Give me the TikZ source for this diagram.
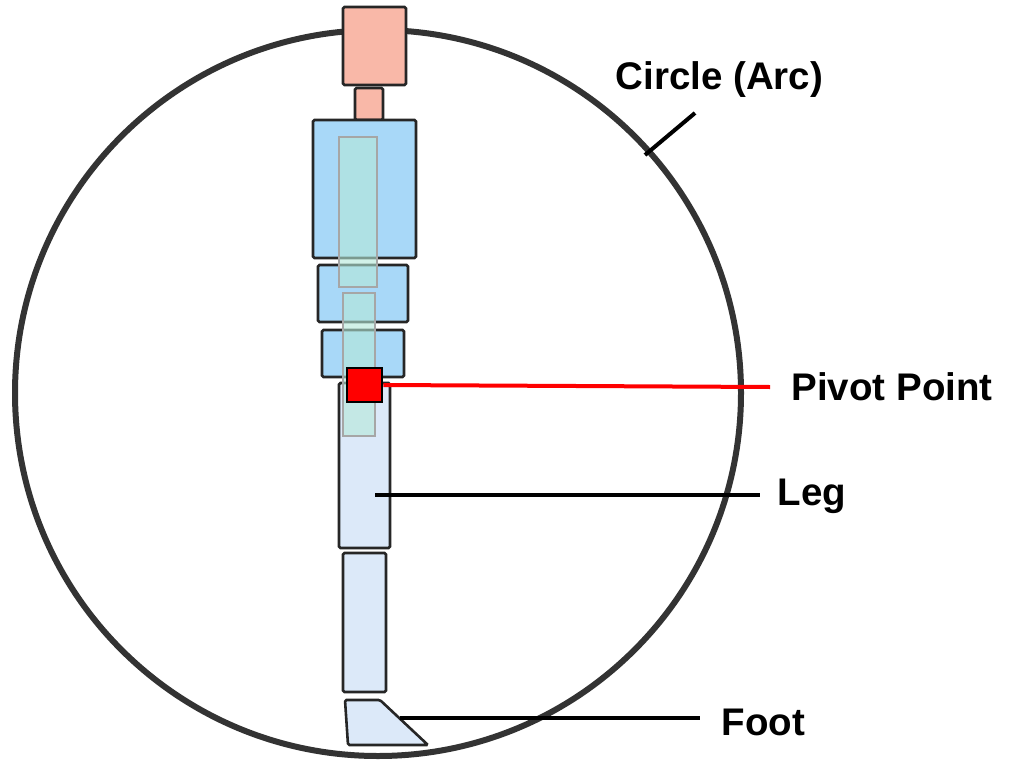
\documentclass[tikz,border=0pt]{standalone}
\usepackage{fontspec}
\setmainfont{Liberation Sans}
\definecolor{skyb}{HTML}{A8D8F8}
\definecolor{pale}{HTML}{DCE9F9}
\definecolor{pnk}{HTML}{F9B8A8}
\definecolor{grn}{HTML}{B4E8D8}
\begin{document}
\begin{tikzpicture}[x=1pt,y=-1pt,
 part/.style={draw=black!85,line width=2.6pt,rounded corners=1.5pt},
 blue/.style={part,fill=skyb},
 light/.style={part,fill=pale},
 pink/.style={part,fill=pnk},
 inner/.style={draw=gray!70,line width=2.6pt,fill=grn,fill opacity=0.6},
 lbl/.style={font=\bfseries\fontsize{38.5}{44}\selectfont,anchor=west},
 ln/.style={line width=4pt}]
\useasboundingbox (0,0) rectangle (1014,768);
\node[draw=black!80,line width=6pt,circle,minimum size=726pt,inner sep=0pt] (circ) at (378,393) {};
\node[pink,minimum width=63pt,minimum height=78pt,inner sep=0pt] (head) at (374.5,46) {};
\node[pink,minimum width=28pt,minimum height=32pt,inner sep=0pt] (neck) at (369,104) {};
\node[blue,minimum width=103pt,minimum height=138pt,inner sep=0pt] (b1) at (364.5,189) {};
\node[blue,minimum width=90pt,minimum height=57pt,inner sep=0pt] (b2) at (363,293.5) {};
\node[blue,minimum width=82pt,minimum height=47pt,inner sep=0pt] (b3) at (363,353.5) {};
\node[light,minimum width=51pt,minimum height=165pt,inner sep=0pt] (leg) at (364.5,465.5) {};
\node[light,minimum width=43pt,minimum height=139pt,inner sep=0pt] (low) at (364.5,622.5) {};
\draw[inner] (339,137) rectangle (377,287);
\draw[inner] (343,293) rectangle (375,436);
\node[draw=black,line width=2.6pt,fill=red,minimum width=35pt,minimum height=34pt,inner sep=0pt] (piv) at (364.5,385) {};
\draw[light] (345,700) -- (380,700) -- (428,745) -- (348,745) -- cycle;
\coordinate (footp) at (400,718);
\coordinate (legp) at (375,495);
\node[lbl] (tc) at (612,80) {Circle (Arc)};
\node[lbl] (tp) at (788,387) {Pivot Point};
\node[lbl] (tl) at (774,496) {Leg};
\node[lbl] (tf) at (718,722) {Foot};
\draw[ln,red] (piv.east) -- (770,387);
\draw[ln] (legp) -- (760,495);
\draw[ln] (footp) -- (700,718);
\draw[ln] (645,155) -- (695,113);
\end{tikzpicture}
\end{document}
